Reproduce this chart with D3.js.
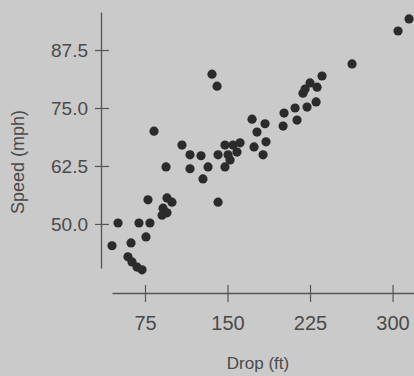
<!DOCTYPE html>
<html>
<head>
<meta charset="utf-8">
<script src="https://cdn.jsdelivr.net/npm/d3@7/dist/d3.min.js"></script>
<style>
  html, body { margin: 0; padding: 0; background: #cbcaca; }
  svg { display: block; }
  text { font-family: "Liberation Sans", Arial, sans-serif; fill: #4a4a4a; }
</style>
</head>
<body>
<script>
// Drop (ft) values
const drop = [45, 50.5, 62.3, 59.5, 63.2, 67.7, 72.3, 69.5, 79.5, 75.9,
  77.7, 95, 99.5, 91.4, 95, 90.5, 83.2, 94.1, 108.6, 115.9,
  125.9, 115.9, 127.7, 132.3, 135.9, 140.5, 141.4, 147.7, 155, 161.4,
  141.4, 150.5, 158.6, 147.7, 152.3, 172.3, 184.1, 176.8, 185, 174.1,
  182.3, 201.4, 200.5, 211.4, 213.2, 222.3, 230.5, 218.6, 225, 231.4,
  235.9, 220.5, 263.2, 305, 315];
// Speed (mph) values
const speed = [45.3, 50.2, 45.9, 42.9, 41.8, 40.7, 40.1, 50.2, 50.2, 47.2,
  55.2, 55.6, 54.7, 53.4, 52.4, 51.9, 70.0, 62.3, 67.0, 64.9,
  64.7, 61.9, 59.7, 62.3, 82.3, 79.7, 54.7, 67.0, 67.0, 67.5,
  64.9, 64.9, 65.5, 62.3, 63.8, 72.6, 71.6, 69.8, 67.7, 66.6,
  64.9, 73.9, 71.1, 75.0, 72.4, 75.2, 76.3, 78.2, 80.4, 79.5,
  81.9, 79.1, 84.5, 91.6, 94.2];
const xTicks = [75, 150, 225, 300];
const yTicks = [50.0, 62.5, 75.0, 87.5];
const xTitle = "Drop (ft)";
const yTitle = "Speed (mph)";

const W = 414, H = 376;
const svg = d3.select("body").append("svg").attr("width", W).attr("height", H);

const x = d3.scaleLinear().domain([45, 319.5]).range([112, 414]);
const y = d3.scaleLinear().domain([40.5, 95.7]).range([268, 12]);

// x axis
const gx = svg.append("g").attr("transform", "translate(0,293)")
  .call(d3.axisBottom(x).tickValues(xTicks).tickSize(0).tickSizeOuter(0).tickPadding(33).tickFormat(d3.format("d")));
gx.select(".domain").attr("stroke", "#555").attr("stroke-width", 1.3);
gx.selectAll(".tick line").attr("y1", -8).attr("y2", 9).attr("stroke", "#555").attr("stroke-width", 1.2);
gx.selectAll(".tick text").attr("font-size", 20).attr("fill", "#4a4a4a").attr("dy", "0.2em")
  .style("font-family", "Liberation Sans, Arial, sans-serif");

// y axis
const gy = svg.append("g").attr("transform", "translate(101,0)")
  .call(d3.axisLeft(y).tickValues(yTicks).tickSize(0).tickSizeOuter(0).tickPadding(13).tickFormat(d3.format(".1f")));
gy.select(".domain").attr("stroke", "#555").attr("stroke-width", 1.3);
gy.selectAll(".tick line").attr("x1", -6).attr("x2", 8).attr("stroke", "#555").attr("stroke-width", 1.2);
gy.selectAll(".tick text").attr("font-size", 19).attr("fill", "#4a4a4a")
  .style("font-family", "Liberation Sans, Arial, sans-serif");

// titles
svg.append("text").attr("x", 258).attr("y", 369).attr("text-anchor", "middle")
  .attr("font-size", 17).text(xTitle);
svg.append("text").attr("transform", "translate(24,162) rotate(-90)").attr("text-anchor", "middle")
  .attr("font-size", 18).text(yTitle);

// points
svg.append("g").selectAll("circle").data(drop.map((d, i) => [d, speed[i]]))
  .join("circle")
  .attr("cx", d => x(d[0]))
  .attr("cy", d => y(d[1]))
  .attr("r", 4.6)
  .attr("fill", "#2b2b2b");
</script>
</body>
</html>
